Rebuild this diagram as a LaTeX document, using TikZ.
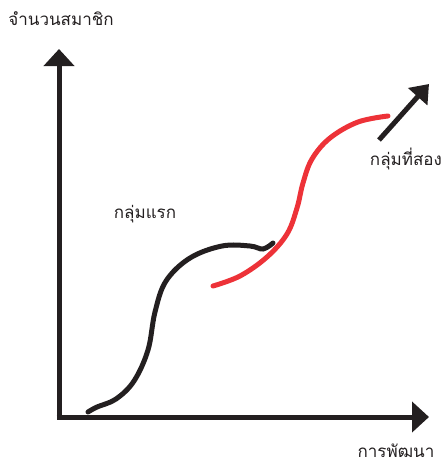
\documentclass[tikz,border=0pt]{standalone}
\usepackage{fontspec}
\newfontfamily\thaifont[Script=Thai]{Loma}
\usepackage{tikz}
\usetikzlibrary{arrows.meta}
\definecolor{inkblack}{RGB}{35,31,32}
\definecolor{growred}{RGB}{237,50,56}
\tikzset{
  axisline/.style={line width=5pt,draw=inkblack,
    -{Triangle[length=17pt,width=30pt]}},
  trendarrow/.style={line width=5pt,draw=inkblack,
    -{Triangle[length=17pt,width=25pt]}},
  firstcurve/.style={line width=5pt,draw=inkblack,line cap=round},
  secondcurve/.style={line width=5pt,draw=growred,line cap=round},
  lab/.style={font=\thaifont\fontsize{17}{20}\selectfont,text=inkblack,
    inner sep=0pt}
}
\begin{document}
\begin{tikzpicture}[x=1pt,y=-1pt]
  \useasboundingbox (0,0) rectangle (446,467);
  % axes
  \coordinate (origin) at (59,417);
  \coordinate (ytip) at (59,49);
  \coordinate (xtip) at (429,417);
  \draw[axisline] ([yshift=2.5pt]origin)--(ytip);
  \draw[axisline] ([xshift=-2.5pt]origin)--(xtip);
  \node[lab] (ylab) at (61,19) {จำนวนสมาชิก};
  \node[lab] (xlab) at (396,451) {การพัฒนา};
  % first group
  \draw[firstcurve] plot[smooth,tension=0.6] coordinates {
    (88,412) (97,407) (116,399) (134,381) (148,350) (155,312)
    (166,281) (190,258) (222,246) (250,246) (263,249) (273,243)};
  \node[lab] (first) at (145,214) {กลุ่มแรก};
  % second group
  \draw[secondcurve] plot[smooth,tension=0.6] coordinates {
    (213,286) (240,276) (267,257) (287,234) (297,208) (303,183)
    (312,159) (330,138) (358,122) (388,116)};
  \coordinate (trendtail) at (379,140);
  \coordinate (trendtip) at (429,84);
  \draw[trendarrow] (trendtail)--(trendtip);
  \node[lab] (second) at (406,159) {กลุ่มที่สอง};
\end{tikzpicture}
\end{document}
